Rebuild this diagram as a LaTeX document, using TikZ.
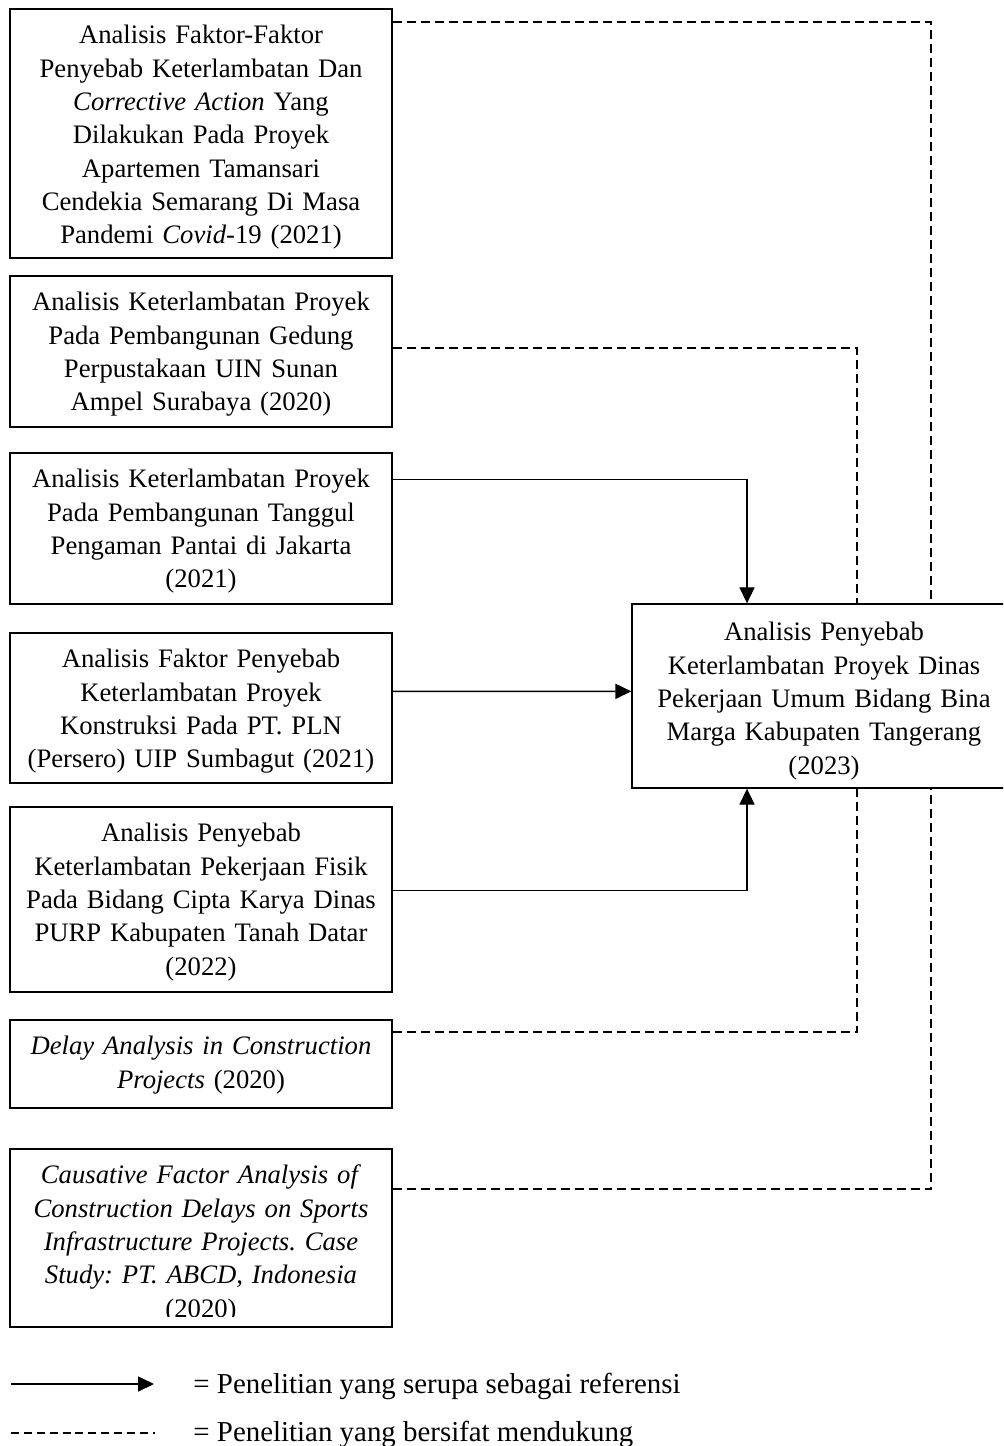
\documentclass[tikz,border=0pt]{standalone}
\usepackage{fontspec}
\setmainfont{Liberation Serif}
\usetikzlibrary{arrows.meta,calc}
\frenchspacing
\tikzset{
  boxnode/.style={draw, line width=0.6pt, inner sep=0pt, minimum width=171.9pt},
  txt/.style={inner sep=0pt, text width=166.5pt, align=center, anchor=north, font=\fontsize{12pt}{15pt}\selectfont\frenchspacing},
  legtxt/.style={inner sep=0pt, anchor=base west, font=\fontsize{13pt}{15pt}\selectfont},
  conn/.style={line width=0.6pt},
  dashline/.style={line width=0.85pt, dash pattern=on 4pt off 2.3pt},
  arr/.style={conn, -{Triangle[length=7.2pt,width=6.8pt]}},
}
\begin{document}
\begin{tikzpicture}[x=0.45pt, y=-0.45pt]
\useasboundingbox (0,0) rectangle (1003,1446);
\clip (0,0) rectangle (1003,1446);

% boxes
\node[boxnode, minimum height=112.05pt] (b1) at (201,133.5) {};
\node[boxnode, minimum height=67.95pt] (b2) at (201,351.5) {};
\node[boxnode, minimum height=67.95pt] (b3) at (201,528.5) {};
\node[boxnode, minimum height=67.5pt] (b4) at (201,708) {};
\node[boxnode, minimum height=83.25pt] (b5) at (201,899.5) {};
\node[boxnode, minimum height=39.6pt] (b6) at (201,1064) {};
\node[boxnode, minimum height=80.1pt] (b7) at (201,1238) {};
\node[boxnode, minimum width=172.8pt, minimum height=82.8pt] (R) at (824,696) {};

% texts
\node[txt] (t1) at ($(b1.north)+(0,11.7)$) {\strut Analisis Faktor-Faktor\\Penyebab Keterlambatan Dan\\\textit{Corrective Action} Yang\\Dilakukan Pada Proyek\\Apartemen Tamansari\\Cendekia Semarang Di Masa\\Pandemi \textit{Covid}-19 (2021)};
\node[txt] (t2) at ($(b2.north)+(0,11.7)$) {\strut Analisis Keterlambatan Proyek\\Pada Pembangunan Gedung\\Perpustakaan UIN Sunan\\Ampel Surabaya (2020)};
\node[txt] (t3) at ($(b3.north)+(0,11.7)$) {\strut Analisis Keterlambatan Proyek\\Pada Pembangunan Tanggul\\Pengaman Pantai di Jakarta\\(2021)};
\node[txt] (t4) at ($(b4.north)+(0,11.7)$) {\strut Analisis Faktor Penyebab\\Keterlambatan Proyek\\Konstruksi Pada PT. PLN\\(Persero) UIP Sumbagut (2021)};
\node[txt] (t5) at ($(b5.north)+(0,11.7)$) {\strut Analisis Penyebab\\Keterlambatan Pekerjaan Fisik\\Pada Bidang Cipta Karya Dinas\\PURP Kabupaten Tanah Datar\\(2022)};
\node[txt] (t6) at ($(b6.north)+(0,11.7)$) {\strut\textit{Delay Analysis in Construction}\\\textit{Projects} (2020)};
\begin{scope}
\clip (10,1149) rectangle (392,1316);
\node[txt] (t7) at ($(b7.north)+(0,11.7)$) {\strut\textit{Causative Factor Analysis of}\\\textit{Construction Delays on Sports}\\\textit{Infrastructure Projects. Case}\\\textit{Study: PT. ABCD, Indonesia}\\(2020)};
\end{scope}
\node[txt] (tR) at ($(R.north)+(0,13.7)$) {\strut Analisis Penyebab\\Keterlambatan Proyek Dinas\\Pekerjaan Umum Bidang Bina\\Marga Kabupaten Tangerang\\(2023)};

% connector columns
\coordinate (cA) at (747,0);
\coordinate (cB) at (857,0);
\coordinate (cC) at (931,0);

% connectors
\draw[dashline] ($(b1.north east)+(0,14)$) -| (cC |- R.north);
\draw[dashline] ($(b2.north east)+(0,73)$) -| (cB |- R.north);
\draw[arr] ($(b3.north east)+(0,27)$) -| (cA |- R.north);
\draw[arr] ($(b4.north east)+(0,59)$) -- ($(R.north west)+(0,88)$);
\draw[arr] ($(b5.north east)+(0,84)$) -| (cA |- R.south);
\draw[dashline] ($(b6.north east)+(0,13)$) -| (cB |- R.south);
\draw[dashline] ($(b7.north east)+(0,41)$) -| (cC |- R.south);

% legend
\coordinate (la) at (11,1384);
\coordinate (lb) at (154,1384);
\coordinate (lc) at (11,1433);
\coordinate (ld) at (155,1433);
\draw[arr] (la) -- (lb);
\draw[dashline, line width=0.6pt, dash pattern=on 3.6pt off 2.2pt] (lc) -- (ld);
\node[legtxt] (lt1) at (193,1393) {= Penelitian yang serupa sebagai referensi};
\node[legtxt] (lt2) at (193,1441) {= Penelitian yang bersifat mendukung};
\end{tikzpicture}
\end{document}
